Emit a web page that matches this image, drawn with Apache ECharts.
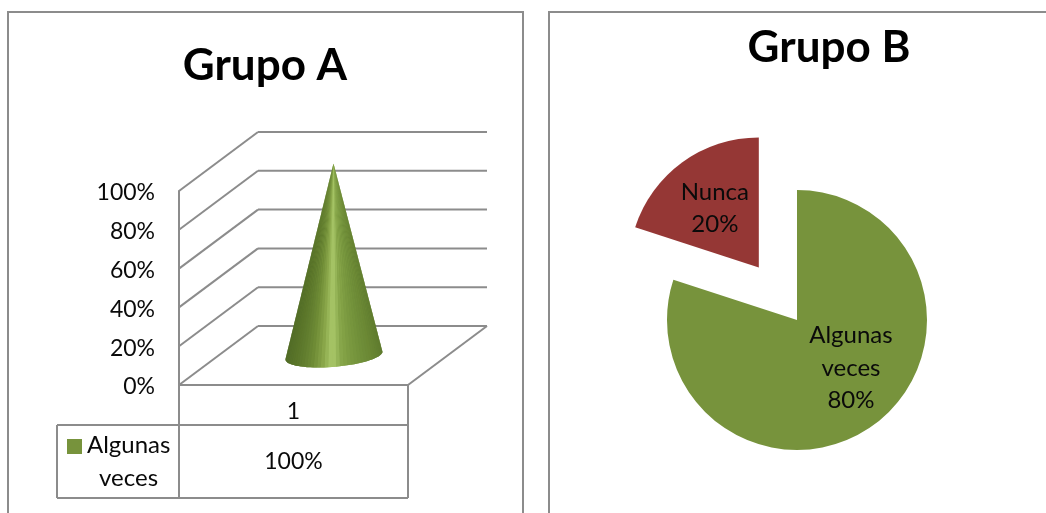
<!DOCTYPE html>
<html><head><meta charset="utf-8">
<style>html,body{margin:0;padding:0;background:#fff}#c{width:1046px;height:513px}</style>
<script src="https://cdn.jsdelivr.net/npm/echarts@6/dist/echarts.min.js"></script>
</head><body><div id="c"></div>
<script>
const titleA = 'Grupo A';
const titleB = 'Grupo B';
const categoriesA = ['1'];
const seriesNameA = 'Algunas veces';
const valuesA = [100];
const yTicks = [0, 20, 40, 60, 80, 100];
const pieNames = ['Algunas\nveces', 'Nunca'];
const pieValues = [80, 20];

const FONT = 'Lato';
const GRAY = '#8c8c8c';
const DX = 79, DY = 59;          // 3D depth of the floor
const TEXT = '#0a0a0a';
const CONE_SHADES = ['#5f7b2e', '#6a8734', '#71903a', '#7a993f', '#86a549', '#abc96b', '#88a548', '#6f8c36', '#627e2f', '#597429', '#526c27'];

const chart = echarts.init(document.getElementById('c'), null, {renderer: 'canvas'});

function line(x1, y1, x2, y2, w) {
  return {type: 'line', shape: {x1, y1, x2, y2}, style: {stroke: GRAY, lineWidth: w || 2, fill: null}};
}

function renderWall(params, api) {
  const p = api.coord([0, api.value(1)]);
  const bw = api.size([1, 0])[0];
  const x0 = p[0] - bw / 2, y = p[1];
  const children = [
    line(x0, y, x0 + DX, y - DY),
    line(x0 + DX, y - DY, x0 + DX + bw, y - DY)
  ];
  if (api.value(1) === 0) children.push(line(x0 + bw, y, x0 + bw + DX, y - DY));
  return {type: 'group', children};
}

// Cone: a solid silhouette, then a fan of wedges from the apex to the tilted elliptical base
function renderCone(params, api) {
  const top = api.coord([0, api.value(1)]);
  const base = api.coord([0, 0]);
  const cx = top[0] + DX / 2 + 0.5;
  const by = base[1] - DY / 2;
  const apex = [cx, top[1] - DY / 2 + 2];
  const N = 40;
  const at = th => [
    cx + 0.5 + 48.5 * Math.cos(th) - 2 * Math.sin(th),
    by - 3.5 * Math.cos(th) + 11.5 * Math.sin(th)
  ];
  const outline = [apex];
  for (let i = 0; i <= N; i++) outline.push(at(Math.PI * i / N));
  const children = [{
    type: 'polygon',
    shape: {points: outline},
    style: {
      fill: new echarts.graphic.LinearGradient(1, 0, 0, 0,
        CONE_SHADES.map((c, i) => ({offset: i / (CONE_SHADES.length - 1), color: c})))
    }
  }];
  for (let i = 0; i < N; i++) {
    const a = at(Math.PI * i / N), b = at(Math.PI * (i + 1) / N);
    const u = 1 - (Math.cos(Math.PI * (i + 0.5) / N) + 1) / 2;
    children.push({
      type: 'polygon',
      shape: {points: [apex, a, b]},
      style: {fill: echarts.color.lerp(u, CONE_SHADES)}
    });
  }
  return {type: 'group', children};
}

function renderTable(params, api) {
  const base = api.coord([0, 0]);
  const bw = api.size([1, 0])[0];
  const x0 = base[0] - bw / 2, x1 = x0 + bw, y0 = base[1];
  const top = y0 + 40, bot = y0 + 113, left = x0 - 122;
  return {
    type: 'group',
    children: [
      line(x0, y0, x0, top),
      line(x1, y0, x1, top),
      line(left, top, x1, top),
      line(left, bot, x1, bot),
      line(left, top, left, bot),
      line(x0, top, x0, bot),
      line(x1, top, x1, bot),
      {
        type: 'text',
        style: {
          x: base[0], y: y0 + 77,
          text: api.value(1) + '%',
          fill: TEXT, font: '23px ' + FONT, align: 'center', verticalAlign: 'middle'
        }
      }
    ]
  };
}

const option = {
  backgroundColor: '#fff',
  animation: false,
  title: [
    {text: titleA, left: 260, top: 61, textAlign: 'center', textVerticalAlign: 'middle',
     textStyle: {fontFamily: FONT, fontWeight: 'bold', fontSize: 44, color: '#000'}},
    {text: titleB, left: 824, top: 43, textAlign: 'center', textVerticalAlign: 'middle',
     textStyle: {fontFamily: FONT, fontWeight: 'bold', fontSize: 44, color: '#000'}}
  ],
  grid: {left: 179, top: 191, width: 229, height: 194, containLabel: false},
  xAxis: {
    type: 'category', data: categoriesA,
    axisTick: {show: false},
    axisLine: {show: true, lineStyle: {color: GRAY, width: 2}},
    axisLabel: {color: TEXT, fontFamily: FONT, fontSize: 23, margin: 15}
  },
  yAxis: {
    type: 'value', min: 0, max: 100, interval: 20,
    axisTick: {show: false},
    splitLine: {show: false},
    axisLine: {show: true, lineStyle: {color: GRAY, width: 2}},
    axisLabel: {
      margin: 24,
      formatter: '{l|{value}%}',
      rich: {l: {color: TEXT, fontFamily: FONT, fontSize: 23, padding: [4, 0, 0, 0]}}
    }
  },
  legend: {
    left: 67, top: 433, padding: 0, itemWidth: 15, itemHeight: 45, itemGap: 0, selectedMode: false,
    data: [{
      name: seriesNameA,
      icon: 'path://M0 0H15V15H0Z M0 45H0.01V45H0Z',
      itemStyle: {color: '#77933C'}
    }],
    formatter: function () { return '{a|Algunas}\n{b|veces}'; },
    textStyle: {
      rich: {
        a: {fontFamily: FONT, fontSize: 24, color: TEXT, lineHeight: 33},
        b: {fontFamily: FONT, fontSize: 24, color: TEXT, lineHeight: 33, padding: [0, 0, 0, 12]}
      }
    }
  },
  series: [
    {
      type: 'custom', name: 'paredes', silent: true, clip: false, z: 1,
      coordinateSystem: 'cartesian2d', renderItem: renderWall,
      encode: {x: 0, y: 1}, data: yTicks.map(t => [0, t])
    },
    {
      type: 'custom', name: seriesNameA, clip: false, z: 3,
      coordinateSystem: 'cartesian2d', renderItem: renderCone,
      itemStyle: {color: '#77933C'},
      encode: {x: 0, y: 1}, data: valuesA.map((v, i) => [i, v])
    },
    {
      type: 'custom', name: 'tabla', silent: true, clip: false, z: 2,
      coordinateSystem: 'cartesian2d', renderItem: renderTable,
      encode: {x: 0, y: 1}, data: valuesA.map((v, i) => [i, v])
    },
    {
      type: 'pie', name: titleB, center: [797, 320], radius: [0, 130],
      startAngle: 90, clockwise: true, selectedMode: 'multiple', selectedOffset: 65,
      emphasis: {disabled: true},
      labelLine: {show: false},
      label: {
        show: true, position: 'inside', color: TEXT, fontFamily: FONT, fontSize: 24, lineHeight: 32.5,
        formatter: p => p.name + '\n' + p.value + '%'
      },
      data: [
        {name: pieNames[0], value: pieValues[0], itemStyle: {color: '#77933C'},
         label: {offset: [14, -7]}},
        {name: pieNames[1], value: pieValues[1], selected: true, itemStyle: {color: '#953735'},
         label: {offset: [-4, -4]},
         select: {label: {offset: [-4, -4]}}}
      ]
    }
  ],
  graphic: [
    {type: 'polyline', silent: true, shape: {points: [[8, 513], [8, 12], [523, 12], [523, 513]]},
     style: {stroke: GRAY, lineWidth: 2, fill: null}},
    {type: 'polyline', silent: true, shape: {points: [[549, 513], [549, 12], [1046, 12]]},
     style: {stroke: GRAY, lineWidth: 2, fill: null}}
  ]
};
chart.setOption(option);
</script></body></html>
